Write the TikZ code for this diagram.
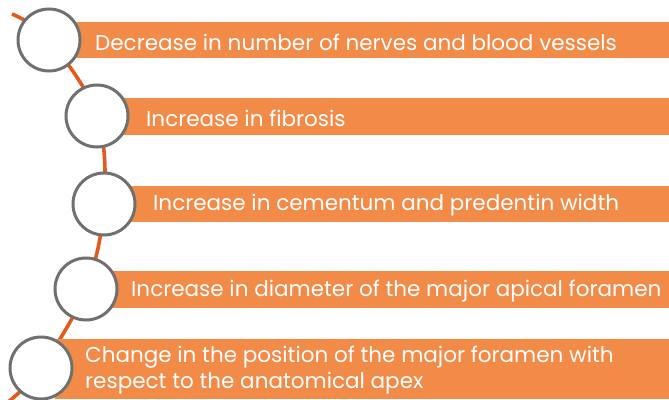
\documentclass[tikz,border=0pt]{standalone}
\usepackage{fontspec}
\setmainfont{Poppins}[Ligatures=NoCommon]
\definecolor{barorange}{HTML}{F28A48}
\definecolor{lineorange}{HTML}{E35A1C}
\definecolor{ringgrey}{HTML}{707070}
\begin{document}
\begin{tikzpicture}[x=1pt,y=-1pt,
  bar/.style={fill=barorange,draw=none},
  ring/.style={circle,draw=ringgrey,line width=3pt,fill=white,minimum size=62pt,inner sep=0pt},
  lbl/.style={anchor=west,text=white,font=\fontsize{21.5}{26}\selectfont,inner sep=0pt},
  link/.style={draw=lineorange,line width=3.6pt}]
\useasboundingbox (0,0) rectangle (669,399);
% path
\coordinate (top) at (12,14);
\coordinate (bot) at (8,402);
\coordinate (p1) at (49,40);
\coordinate (p2) at (97,116);
\coordinate (p3) at (104,204);
\coordinate (p4) at (86,289);
\coordinate (p5) at (41,368);
\draw[link] plot[smooth,tension=0.6] coordinates {(top) (p1) (p2) (p3) (p4) (p5) (bot)};
% bars
\fill[bar] (60,22) rectangle (669,58);
\fill[bar] (110,98) rectangle (669,135);
\fill[bar] (115,186) rectangle (669,222);
\fill[bar] (100,271) rectangle (669,308);
\fill[bar] (55,339) rectangle (669,399);
% circles
\node[ring] (c1) at (p1) {};
\node[ring] (c2) at (p2) {};
\node[ring] (c3) at (p3) {};
\node[ring] (c4) at (p4) {};
\node[ring] (c5) at (p5) {};
% labels
\node[lbl] (t1) at (95,42) {Decrease in number of nerves and blood vessels};
\node[lbl] (t2) at (146,118) {Increase in fibrosis};
\node[lbl] (t3) at (153,205) {Increase in cementum and predentin width};
\node[lbl] (t4) at (131,291) {Increase in diameter of the major apical foramen};
\node[lbl,align=left] (t5) at (85,370) {Change in the position of the major foramen with\\respect to the anatomical apex};
\end{tikzpicture}
\end{document}
